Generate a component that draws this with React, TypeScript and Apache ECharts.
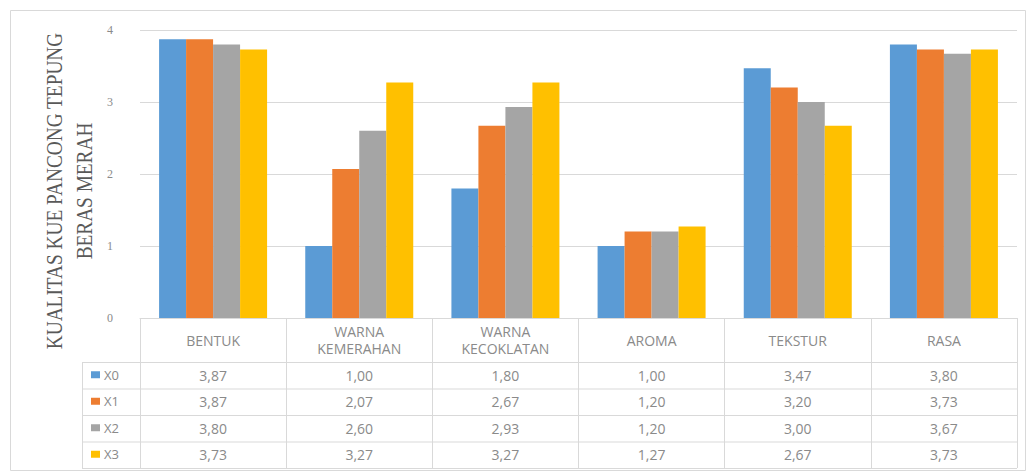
import React, { useEffect, useRef } from "react";
import * as echarts from "echarts";

const categories = ["BENTUK", "WARNA\nKEMERAHAN", "WARNA\nKECOKLATAN", "AROMA", "TEKSTUR", "RASA"];
const seriesNames = ["X0", "X1", "X2", "X3"];
const x0Values = [3.87, 1.0, 1.8, 1.0, 3.47, 3.8];
const x1Values = [3.87, 2.07, 2.67, 1.2, 3.2, 3.73];
const x2Values = [3.8, 2.6, 2.93, 1.2, 3.0, 3.67];
const x3Values = [3.73, 3.27, 3.27, 1.27, 2.67, 3.73];
const yTickMin = 0;
const yTickMax = 4;
const yTickInterval = 1;
const yAxisTitle = "KUALITAS KUE PANCONG TEPUNG\nBERAS MERAH";

const seriesValues = [x0Values, x1Values, x2Values, x3Values];
const colors = ["#5b9bd5", "#ed7d31", "#a5a5a5", "#ffc000"];

const W = 1035;
const H = 471;
const GRID_LEFT = 140;
const GRID_RIGHT = 18;
const GRID_TOP = 30;
const AXIS_Y = 318;
const HEADER_BOTTOM = 362;
const ROW_H = 26.5;
const LEGEND_LEFT = 82;
const LINE_COLOR = "#d9d9d9";
const TEXT_COLOR = "#8a8a8a";
const TABLE_FONT = "'Open Sans', 'Liberation Sans', sans-serif";

const fmt = (v: number) => v.toFixed(2).replace(".", ",");

export default function App() {
  const ref = useRef<HTMLDivElement>(null);
  useEffect(() => {
    if (!ref.current) return;
    const chart = echarts.init(ref.current, undefined, { renderer: "svg" });
    const rowLines = [HEADER_BOTTOM, ...seriesNames.map((_, i) => HEADER_BOTTOM + ROW_H * (i + 1))];
    const rowCenters = seriesNames.map((_, i) => HEADER_BOTTOM + ROW_H * (i + 0.5));
    const tableBottom = rowLines[rowLines.length - 1];
    const plotRight = W - GRID_RIGHT;

    const valueAxes = seriesValues.map((vals, k) => ({
      type: "category",
      data: categories,
      gridIndex: 0,
      position: "bottom",
      axisLine: { show: false },
      axisTick: { show: false },
      splitLine: { show: false },
      axisLabel: {
        interval: 0,
        margin: rowCenters[k] - AXIS_Y,
        verticalAlign: "middle",
        color: TEXT_COLOR,
        fontSize: 14,
        fontFamily: TABLE_FONT,
        formatter: (_v: string, i: number) => fmt(vals[i]),
      },
    }));

    const graphics: any[] = [
      {
        type: "rect",
        shape: { x: 10.5, y: 10.5, width: 1015, height: 460 },
        style: { fill: "none", stroke: LINE_COLOR, lineWidth: 1 },
        silent: true,
      },
      ...rowLines.map((y) => ({
        type: "line",
        shape: { x1: LEGEND_LEFT, y1: y + 0.5, x2: plotRight, y2: y + 0.5 },
        style: { stroke: LINE_COLOR, lineWidth: 1 },
        silent: true,
      })),
      {
        type: "line",
        shape: { x1: LEGEND_LEFT + 0.5, y1: HEADER_BOTTOM, x2: LEGEND_LEFT + 0.5, y2: tableBottom },
        style: { stroke: LINE_COLOR, lineWidth: 1 },
        silent: true,
      },
      {
        type: "text",
        x: 69,
        y: 191,
        rotation: Math.PI / 2,
        scaleX: 0.84,
        scaleY: 1,
        style: {
          text: yAxisTitle,
          fill: "#595959",
          fontSize: 23,
          lineHeight: 30,
          fontFamily: "'Liberation Serif', 'DejaVu Serif', serif",
          align: "center",
          verticalAlign: "middle",
        },
        silent: true,
      },
    ];

    const legends = seriesNames.map((name, i) => ({
      data: [{ name, icon: "rect" }],
      orient: "horizontal",
      left: 91,
      top: rowCenters[i] - 7,
      padding: 0,
      itemWidth: 9,
      itemHeight: 7,
      itemGap: 4,
      selectedMode: false,
      textStyle: { color: TEXT_COLOR, fontSize: 13, fontFamily: TABLE_FONT, padding: [0, 0, 0, -1] },
    }));

    chart.setOption({
      animation: false,
      backgroundColor: "#ffffff",
      color: colors,
      legend: legends,
      grid: { left: GRID_LEFT, right: GRID_RIGHT, top: GRID_TOP, bottom: H - AXIS_Y, containLabel: false },
      xAxis: [
        {
          type: "category",
          data: categories,
          position: "bottom",
          axisLine: { show: true, lineStyle: { color: LINE_COLOR, width: 1 } },
          axisTick: { show: true, length: tableBottom - AXIS_Y, lineStyle: { color: LINE_COLOR } },
          splitLine: { show: false },
          axisLabel: {
            interval: 0,
            margin: (HEADER_BOTTOM - AXIS_Y) / 2,
            verticalAlign: "middle",
            align: "center",
            lineHeight: 17,
            color: TEXT_COLOR,
            fontSize: 14,
            fontFamily: TABLE_FONT,
          },
        },
        ...valueAxes,
      ],
      yAxis: {
        type: "value",
        min: yTickMin,
        max: yTickMax,
        interval: yTickInterval,
        axisLine: { show: false },
        axisTick: { show: false },
        splitLine: { show: true, lineStyle: { color: LINE_COLOR, width: 1 } },
        axisLabel: { color: TEXT_COLOR, fontSize: 12, margin: 27, fontFamily: "'Liberation Serif', serif" },
      },
      series: seriesNames.map((name, k) => ({
        name,
        type: "bar",
        data: seriesValues[k],
        barWidth: 27,
        barGap: "0%",
        itemStyle: { color: colors[k] },
      })),
      graphic: graphics,
    });
    return () => chart.dispose();
  }, []);
  return (
    <div
      ref={ref}
      style={{ position: "fixed", left: 0, top: 0, width: W, height: H, background: "#fff" }}
    />
  );
}
